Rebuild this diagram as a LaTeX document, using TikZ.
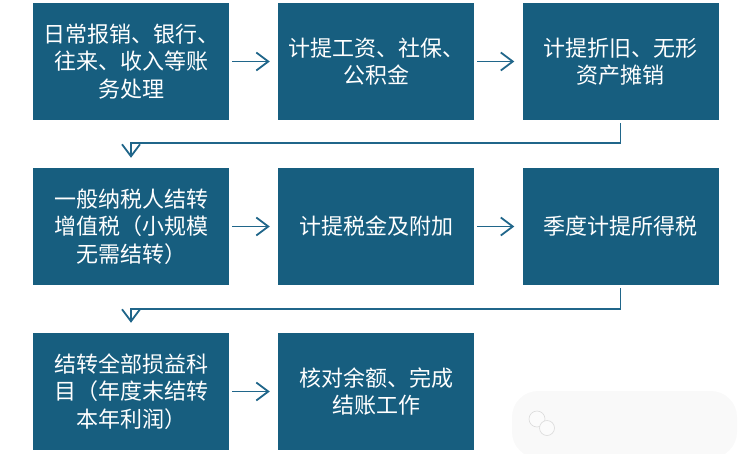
\documentclass[tikz,border=0pt]{standalone}
\usepackage{fontspec}
\newfontfamily\cjk{Noto Sans CJK SC}
\usetikzlibrary{arrows.meta}
\definecolor{boxblue}{RGB}{23,94,127}
\definecolor{linkblue}{RGB}{32,102,138}
\begin{document}
\begin{tikzpicture}[x=1pt,y=-1pt,
  stepbox/.style={fill=boxblue, draw=none, minimum width=196pt, minimum height=117pt,
    text width=192pt, align=center, text=white, inner sep=0pt,
    font=\cjk\fontsize{22pt}{27.5pt}\selectfont},
  flow/.style={draw=linkblue, line width=1.8pt,
    -{Straight Barb[length=12pt,width=18pt,line width=1.8pt]}},
  wmlogo/.style={draw=gray!28, line width=0.6pt, fill=gray!3}]
\useasboundingbox (0,0) rectangle (750,453);
% watermark
\fill[gray!5, rounded corners=26pt] (512,391) rectangle (737,458);
\draw[wmlogo] (537,419) circle (8);
\draw[wmlogo] (547,428) circle (7.5);
% boxes
\node[stepbox] (a1) at (131,61.5) {日常报销、银行、\\往来、收入等账\\务处理};
\node[stepbox] (a2) at (376,61.5) {计提工资、社保、\\公积金};
\node[stepbox] (a3) at (620.5,61.5) {计提折旧、无形\\资产摊销};
\node[stepbox] (b1) at (131,226.5) {一般纳税人结转\\增值税（小规模\\无需结转）};
\node[stepbox] (b2) at (376,226.5) {计提税金及附加};
\node[stepbox] (b3) at (620.5,226.5) {季度计提所得税};
\node[stepbox] (c1) at (131,391.5) {结转全部损益科\\目（年度末结转\\本年利润）};
\node[stepbox] (c2) at (376,391.5) {核对余额、完成\\结账工作};
% connectors
\draw[flow] ([xshift=3pt]a1.east) -- ([xshift=-8pt]a2.west);
\draw[flow] ([xshift=3pt]a2.east) -- ([xshift=-8pt]a3.west);
\draw[flow] ([xshift=3pt]b1.east) -- ([xshift=-8pt]b2.west);
\draw[flow] ([xshift=3pt]b2.east) -- ([xshift=-8pt]b3.west);
\draw[flow] ([xshift=3pt]c1.east) -- ([xshift=-8pt]c2.west);
\draw[flow] ([yshift=-3pt]a3.south) -- ++(0,19.5) -| ([yshift=10pt]b1.north);
\draw[flow] ([yshift=-3pt]b3.south) -- ++(0,20.5) -| ([yshift=10pt]c1.north);
\end{tikzpicture}
\end{document}
